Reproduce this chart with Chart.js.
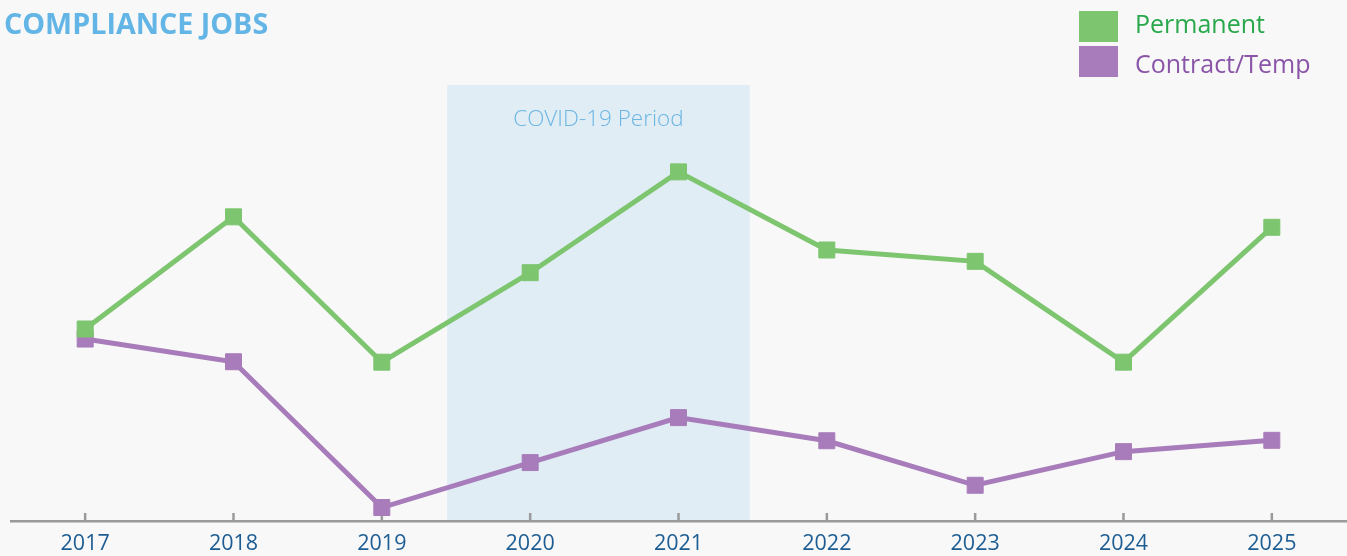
<!DOCTYPE html>
<html>
<head>
<meta charset="utf-8">
<script src="https://cdn.jsdelivr.net/npm/chart.js@4/dist/chart.umd.min.js"></script>
<style>
  html, body { margin: 0; padding: 0; background: #f8f8f8; overflow: hidden; }
  #wrap { position: relative; width: 1347px; height: 556px; }
  canvas { display: block; }
</style>
</head>
<body>
<div id="wrap"><canvas id="c" width="1347" height="556"></canvas></div>
<script>
// ---- data ----
const years = ['2017', '2018', '2019', '2020', '2021', '2022', '2023', '2024', '2025'];
const permanent = [44.1, 69.8, 36.5, 57.0, 80.1, 62.2, 59.6, 36.5, 67.4];
const contractTemp = [41.8, 36.6, 3.2, 13.5, 23.8, 18.5, 8.3, 16.0, 18.6];
const seriesNames = ['Permanent', 'Contract/Temp'];
const chartTitle = 'COMPLIANCE JOBS';
const covidLabel = 'COVID-19 Period';
const covidRange = [2.44, 4.48]; // category index range of the shaded band
const yRange = [0, 100];

// ---- styles ----
const GREEN = '#7dc56f', PURPLE = '#a87cba';
const GREEN_TEXT = '#28a84b', PURPLE_TEXT = '#8a55a8';
const FONT = '"Open Sans", "Noto Sans", sans-serif';

const decor = {
  id: 'decor',
  beforeDraw(chart) {
    const {ctx, scales: {x, y}} = chart;
    const x0 = x.getPixelForValue(covidRange[0]);
    const x1 = x.getPixelForValue(covidRange[1]);
    const yt = y.getPixelForValue(yRange[1]);
    const yb = y.getPixelForValue(yRange[0]);
    ctx.save();
    ctx.fillStyle = '#e0edf5';
    ctx.fillRect(x0, yt, x1 - x0, yb - yt);
    ctx.fillStyle = '#6cb6e3';
    ctx.font = '300 22.5px ' + FONT;
    ctx.textAlign = 'center';
    ctx.textBaseline = 'middle';
    ctx.fillText(covidLabel, (x0 + x1) / 2, 120);
    ctx.restore();
  },
  beforeDatasetsDraw(chart) {
    const {ctx, chartArea, scales: {x}} = chart;
    ctx.save();
    ctx.strokeStyle = '#9a9a9a';
    ctx.lineWidth = 2.5;
    for (let i = 0; i < years.length; i++) {
      const px = x.getPixelForTick(i);
      ctx.beginPath();
      ctx.moveTo(px, chartArea.bottom);
      ctx.lineTo(px, chartArea.bottom - 8.5);
      ctx.stroke();
    }
    ctx.restore();
  },
  afterDraw(chart) {
    const {ctx} = chart;
    ctx.save();
    // title
    ctx.fillStyle = '#63b5e6';
    ctx.font = 'bold 28.7px ' + FONT;
    ctx.textAlign = 'left';
    ctx.textBaseline = 'alphabetic';
    ctx.fillText(chartTitle, 4, 34);
    // legend
    const colors = [GREEN, PURPLE];
    const tcolors = [GREEN_TEXT, PURPLE_TEXT];
    const tops = [11, 46];
    const baselines = [33, 73];
    ctx.font = '25px ' + FONT;
    for (let i = 0; i < seriesNames.length; i++) {
      ctx.fillStyle = colors[i];
      ctx.fillRect(1079, tops[i], 39, 31);
      ctx.fillStyle = tcolors[i];
      ctx.fillText(seriesNames[i], 1135, baselines[i]);
    }
    ctx.restore();
  }
};

new Chart(document.getElementById('c'), {
  type: 'line',
  data: {
    labels: years,
    datasets: [
      {
        label: seriesNames[0], data: permanent,
        borderColor: GREEN, backgroundColor: GREEN,
        borderWidth: 5, tension: 0,
        pointStyle: 'rect', pointRadius: 11.3, pointBorderWidth: 1,
        pointBackgroundColor: GREEN, pointBorderColor: GREEN,
        clip: false
      },
      {
        label: seriesNames[1], data: contractTemp,
        borderColor: PURPLE, backgroundColor: PURPLE,
        borderWidth: 5, tension: 0,
        pointStyle: 'rect', pointRadius: 11.3, pointBorderWidth: 1,
        pointBackgroundColor: PURPLE, pointBorderColor: PURPLE,
        clip: false
      }
    ]
  },
  options: {
    responsive: false,
    maintainAspectRatio: false,
    animation: false,
    devicePixelRatio: 1,
    layout: { autoPadding: false, padding: { top: 85, left: 11, right: 1, bottom: -9.3 } },
    plugins: { legend: { display: false }, title: { display: false }, tooltip: { enabled: false } },
    scales: {
      x: {
        offset: true,
        grid: { display: false, drawTicks: false },
        border: { display: true, color: '#9a9a9a', width: 2.5 },
        ticks: { color: '#1d5d93', padding: 9, font: { family: FONT, size: 21.5 } }
      },
      y: {
        display: false,
        min: yRange[0], max: yRange[1]
      }
    }
  },
  plugins: [decor]
});
</script>
</body>
</html>
